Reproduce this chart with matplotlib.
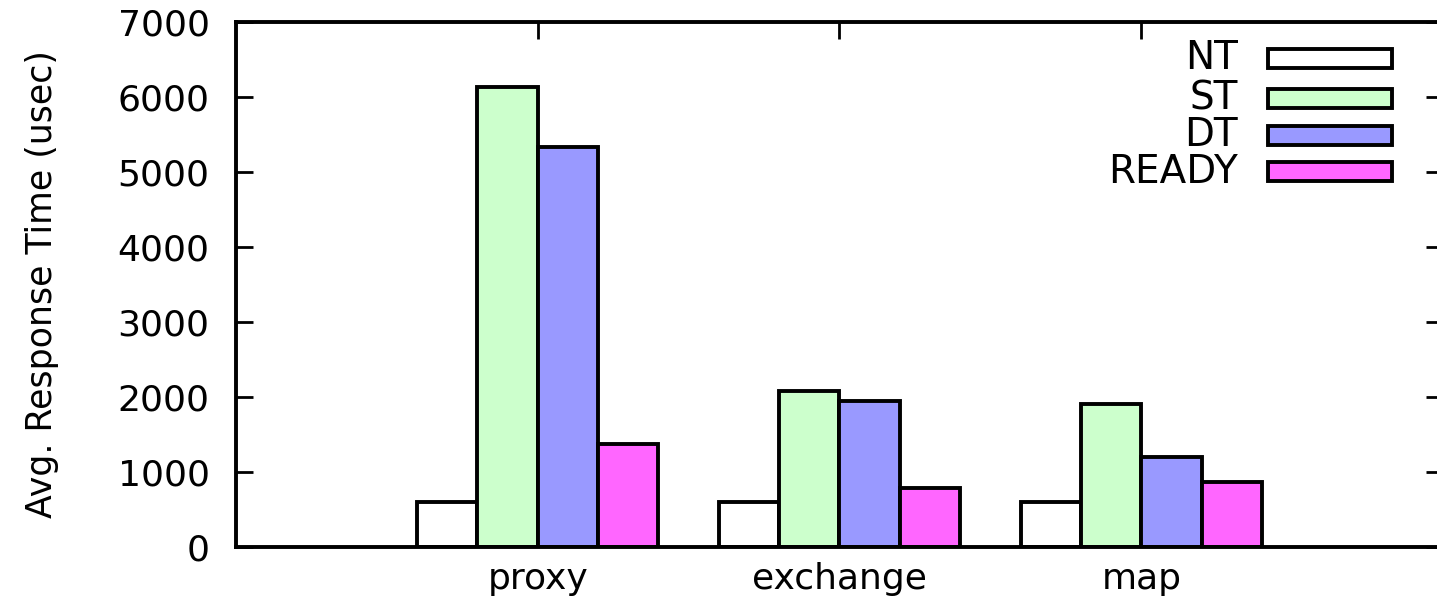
import numpy as np
import matplotlib.pyplot as plt
from matplotlib.patches import Rectangle

plt.rcParams['font.family'] = ['DejaVu Sans']

categories = ['proxy', 'exchange', 'map']
series_names = ['NT', 'ST', 'DT', 'READY']
nt = [600, 600, 600]
st = [6130, 2080, 1910]
dt = [5340, 1950, 1200]
ready = [1370, 790, 860]
colors = ['#ffffff', '#ccffcc', '#9999ff', '#ff66ff']

fig = plt.figure(figsize=(14.37, 6.04), dpi=100)
ax = fig.add_axes([0.1642, 0.0944, 0.840, 0.869])

x = np.arange(1, len(categories) + 1)
w = 0.2
for i, (vals, col) in enumerate(zip([nt, st, dt, ready], colors)):
    ax.bar(x + (i - 1.5) * w, vals, width=w, color=col, edgecolor='black',
           linewidth=2.8, zorder=3)

ax.set_xlim(0, 4)
ax.set_ylim(0, 7000)
ax.set_xticks(x)
ax.set_xticklabels(categories, fontsize=26)
ax.set_yticks(np.arange(0, 7001, 1000))
ax.tick_params(axis='y', labelsize=26, direction='in', length=12, width=2,
               right=True, pad=19)
ax.tick_params(axis='x', direction='in', length=12, width=2, top=True, pad=11)
ax.set_ylabel('Avg. Response Time (usec)', fontsize=25, labelpad=42)

for s in ax.spines.values():
    s.set_linewidth(2.8)
    s.set_zorder(4)

# key, text right-aligned to the left of each sample box
rows = [0.931, 0.854, 0.784, 0.715]
for name, col, yy in zip(series_names, colors, rows):
    ax.text(0.830, yy, name, transform=ax.transAxes, ha='right', va='center',
            fontsize=28)
    ax.add_patch(Rectangle((0.855, yy - 0.018), 0.1027, 0.036,
                           transform=ax.transAxes, facecolor=col,
                           edgecolor='black', linewidth=2.8, zorder=5))

fig.savefig('out.png', dpi=100)
